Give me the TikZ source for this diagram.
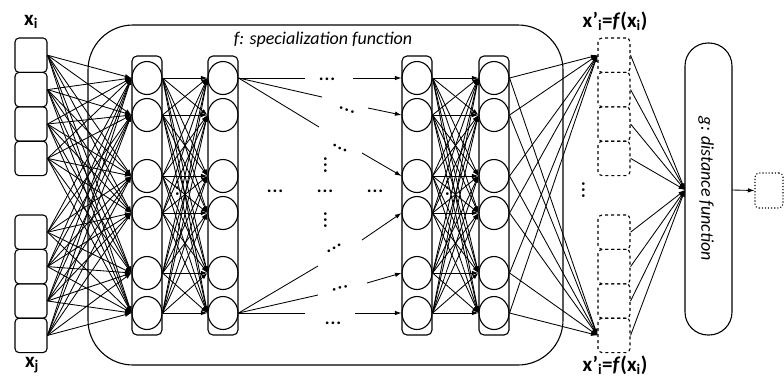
\documentclass[tikz,border=0pt]{standalone}
\usepackage{fontspec}
\setmainfont{Carlito}
\usetikzlibrary{arrows.meta,shapes.geometric}
\newcommand{\tdots}{.\kern1pt.\kern1pt.}
\begin{document}
\begin{tikzpicture}[x=1pt,y=-1pt,
  shp/.style={draw,line width=1.1pt},
  inbox/.style={shp,rectangle,rounded corners=4pt,minimum width=32pt,minimum height=34.4pt,inner sep=0pt},
  outbox/.style={inbox,dashed},
  colbox/.style={shp,rectangle,rounded corners=5pt,minimum width=30pt,minimum height=279pt,inner sep=0pt},
  neuron/.style={shp,ellipse,minimum width=30pt,minimum height=33pt,inner sep=0pt},
  conn/.style={line width=0.85pt},
  arr/.style={conn,-{Latex[length=6.5pt,width=4.5pt]}},
  dotsn/.style={font=\bfseries\fontsize{18}{18}\selectfont,inner sep=0pt,text height=3pt,text depth=0pt},
  lbl/.style={font=\bfseries\fontsize{21}{23}\selectfont,inner sep=0pt},
  flbl/.style={font=\itshape\fontsize{18}{20}\selectfont,inner sep=0pt}
]
\useasboundingbox (0,0) rectangle (784,378);
% big f box
\node[shp,rectangle,rounded corners=45pt,minimum width=475pt,minimum height=340pt,inner sep=0pt] (fbox) at (325.5,195) {};
\node[flbl] (ftext) at (323,40) {f: specialization function};
% g box
\node[shp,rectangle,rounded corners=23pt,minimum width=47pt,minimum height=292pt,inner sep=0pt] (gbox) at (708.5,189) {};
\node[flbl,rotate=-90] (gtext) at (706,189) {g: distance function};
\node[draw,dotted,line width=1.1pt,rectangle,rounded corners=4pt,minimum width=28pt,minimum height=35pt,inner sep=0pt] (res) at (769,190.5) {};
\coordinate (gin) at (685,190);
\coordinate (gout) at (732,190);
% input and output boxes
\foreach \k/\y in {1/55.2,2/89.6,3/124,4/158.4,5/232.2,6/266.6,7/301,8/335.4} {
  \node[inbox] (in\k) at (31,\y) {};
  \node[outbox] (out\k) at (614,\y) {};
}
% labels
\node[lbl] (lxi) at (31,22) {x\textsubscript{i}};
\node[lbl] (lxj) at (32,365) {x\textsubscript{j}};
\node[lbl] (lxo1) at (615,21) {x’\textsubscript{i}=\textit{f}(x\textsubscript{i})};
\node[lbl] (lxo2) at (615,365) {x’\textsubscript{i}=\textit{f}(x\textsubscript{i})};
% columns and neurons
\foreach \c/\x in {1/147,2/223,3/417,4/494} {
  \node[colbox] (col\c) at (\x,195.5) {};
  \foreach \k/\y in {1/78,2/115,3/176,4/213,5/273,6/313}
    \node[neuron] (c\c\k) at (\x,\y) {};
}
% input -> layer 1
\foreach \i in {1,...,8}
  \foreach \k in {1,...,6}
    \draw[arr] (in\i.east) -- (c1\k.west);
% layer 1 -> 2, layer 3 -> 4
\foreach \i in {1,...,6}
  \foreach \k in {1,...,6} {
    \draw[arr] (c1\i.east) -- (c2\k.west);
    \draw[arr] (c3\i.east) -- (c4\k.west);
  }
% layer 4 -> outputs
\foreach \i in {1,...,6} {
  \draw[arr] (c4\i.east) -- (out1.west);
  \draw[arr] (c4\i.east) -- (out8.west);
}
% outputs -> g
\foreach \i in {1,...,8}
  \draw[arr] (out\i.east) -- (gin);
\draw[arr] (gout) -- (res.west);
% vertical dots between layers
\node[dotsn,rotate=90] (v12) at (177,188) {\tdots};
\node[dotsn,rotate=90] (v34) at (447,188) {\tdots};
\node[dotsn,rotate=90] (v4o) at (583,190) {\tdots};
% middle hidden part
\coordinate (t1) at (305,78);
\coordinate (t2) at (322,97);
\coordinate (t3) at (319,127);
\coordinate (b1) at (305,313);
\coordinate (b2) at (318,295);
\coordinate (b3) at (318,266);
\draw[conn] (c21.east) -- (t1);
\draw[conn] (c21.east) -- (t2);
\draw[conn] (c21.east) -- (t3);
\draw[conn] (c26.east) -- (b1);
\draw[conn] (c26.east) -- (b2);
\draw[conn] (c26.east) -- (b3);
\node[dotsn] (d1) at (327,79) {\tdots};
\node[dotsn,rotate=-18] (d2) at (347,110) {\tdots};
\node[dotsn,rotate=-27] (d3) at (340,148) {\tdots};
\node[dotsn,rotate=90] (dv1) at (325,165) {\tdots};
\node[dotsn] (dm1) at (275,191) {\tdots};
\node[dotsn] (dm2) at (325,191) {\tdots};
\node[dotsn] (dm3) at (375,191) {\tdots};
\node[dotsn,rotate=90] (dv2) at (325,220) {\tdots};
\node[dotsn,rotate=28] (d4) at (334,248) {\tdots};
\node[dotsn,rotate=11] (d5) at (340,288) {\tdots};
\node[dotsn] (d6) at (333,323) {\tdots};
\coordinate (a1) at (353,78);
\coordinate (a2) at (368,108);
\coordinate (a3) at (362,153);
\coordinate (a4) at (362,240);
\coordinate (a5) at (367,283);
\coordinate (a6) at (355,313);
\draw[arr] (a1) -- (c31.west);
\draw[arr] (a2) -- (c32.west);
\draw[arr] (a3) -- (c33.west);
\draw[arr] (a4) -- (c34.west);
\draw[arr] (a5) -- (c35.west);
\draw[arr] (a6) -- (c36.west);
\end{tikzpicture}
\end{document}
